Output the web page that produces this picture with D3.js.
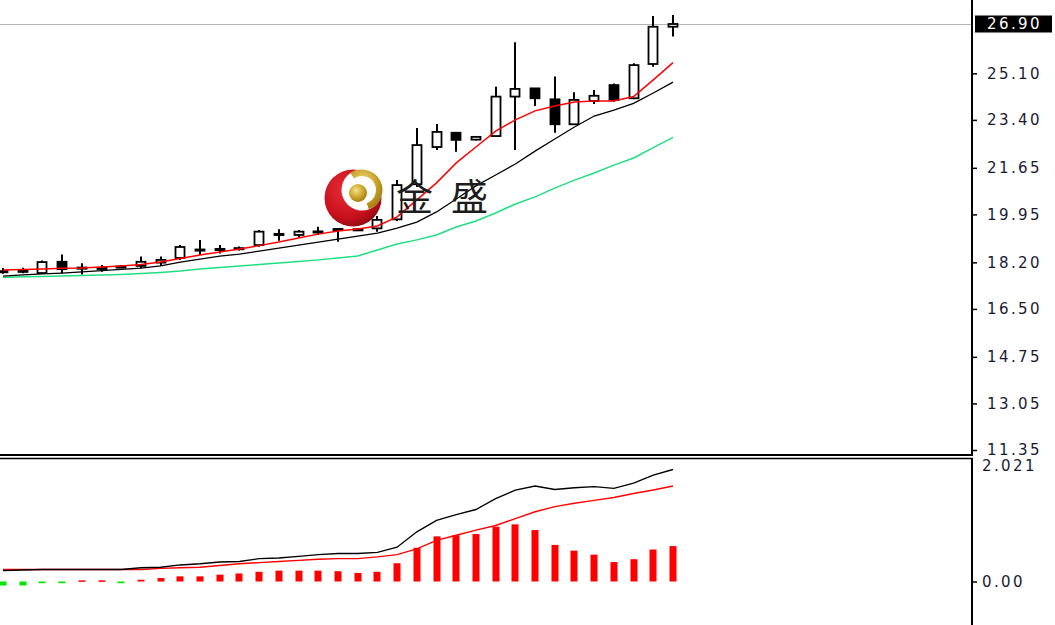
<!DOCTYPE html>
<html>
<head>
<meta charset="utf-8">
<script src="https://cdn.jsdelivr.net/npm/d3@7"></script>
<style>
html,body{margin:0;padding:0;background:#fff;}
svg{display:block;}
</style>
</head>
<body>
<svg id="chart" width="1055" height="625"></svg>
<script>
// ---- data ----
const openPrices  = [17.85,17.85,17.81,18.22,18.01,17.98,18.04,18.07,18.19,18.36,18.63,18.67,18.71,18.83,19.22,19.20,19.31,19.40,19.40,19.44,19.77,21.05,22.41,22.93,22.68,22.81,24.25,24.55,24.15,23.24,24.09,24.67,24.19,25.44,26.80];
const highPrices  = [17.99,18.00,18.27,18.49,18.17,18.10,18.10,18.41,18.41,18.83,19.02,18.83,18.78,19.38,19.41,19.38,19.50,19.44,19.44,19.89,21.21,23.10,23.25,22.94,22.81,24.61,26.23,24.56,24.98,24.41,24.49,24.73,25.47,27.19,27.23];
const lowPrices   = [17.78,17.80,17.79,17.80,17.76,17.86,17.99,17.98,18.07,18.29,18.47,18.52,18.63,18.77,18.99,19.11,19.20,18.95,19.38,19.32,19.71,20.95,22.30,22.24,22.65,22.79,22.30,23.91,22.93,23.23,23.98,24.06,24.15,25.34,26.44];
const closePrices = [17.88,17.90,18.21,17.95,17.99,18.00,18.05,18.22,18.29,18.76,18.67,18.69,18.72,19.32,19.24,19.32,19.33,19.42,19.41,19.75,21.02,22.48,22.96,22.67,22.78,24.25,24.53,24.19,23.24,24.13,24.28,24.13,25.40,26.80,26.90];

const maRed   = [17.92,17.94,17.96,17.98,17.99,18.03,18.07,18.12,18.21,18.34,18.47,18.58,18.69,18.81,18.94,19.09,19.23,19.34,19.42,19.53,19.86,20.48,21.10,21.83,22.41,22.99,23.40,23.73,23.91,24.05,24.09,24.09,24.25,24.86,25.49];
const maBlack = [17.70,17.74,17.78,17.81,17.85,17.90,17.94,17.99,18.07,18.21,18.32,18.43,18.50,18.61,18.72,18.83,18.94,19.05,19.16,19.27,19.45,19.67,20.04,20.51,20.99,21.39,21.79,22.26,22.70,23.14,23.54,23.76,24.00,24.38,24.78];
const maGreen = [17.65,17.67,17.68,17.70,17.72,17.74,17.76,17.79,17.83,17.88,17.96,18.01,18.07,18.12,18.18,18.23,18.29,18.36,18.43,18.65,18.87,19.02,19.20,19.49,19.71,20.00,20.33,20.59,20.91,21.20,21.46,21.75,22.01,22.39,22.76];

const macdLine   = [0.19,0.20,0.21,0.21,0.21,0.21,0.21,0.24,0.25,0.29,0.31,0.34,0.35,0.40,0.41,0.44,0.47,0.49,0.49,0.51,0.60,0.87,1.07,1.17,1.26,1.45,1.60,1.67,1.61,1.64,1.66,1.63,1.72,1.86,1.96];
const signalLine = [0.21,0.21,0.21,0.21,0.21,0.21,0.21,0.21,0.23,0.24,0.25,0.28,0.31,0.33,0.35,0.37,0.39,0.40,0.40,0.43,0.47,0.57,0.72,0.81,0.90,0.98,1.10,1.22,1.31,1.37,1.42,1.47,1.54,1.60,1.67];
const macdHist   = [-0.07,-0.07,-0.03,-0.03,0.02,0.02,-0.03,0.03,0.06,0.09,0.09,0.12,0.14,0.17,0.19,0.19,0.19,0.18,0.15,0.17,0.32,0.59,0.79,0.81,0.83,0.96,1.00,0.90,0.64,0.54,0.47,0.34,0.39,0.56,0.62];

const priceTicks = [25.10, 23.40, 21.65, 19.95, 18.20, 16.50, 14.75, 13.05, 11.35];
const macdTicks  = [2.021, 0.00];
const macdTickLabels = ["2.021", "0.00"];
const logoText = ["金", "盛"];

// ---- layout ----
const svg = d3.select("#chart");
const axisX = 972;
const n = closePrices.length;
const x = d3.scaleLinear().domain([0, n - 1]).range([3, 673]);
const y = d3.scaleLinear().domain([11.35, 26.90]).range([450, 24]);
const ym = d3.scaleLinear().domain([0, 2.021]).range([581.5, 466]);

const labelColor = "#1a1a33";
const fontFam = "'DejaVu Sans', Verdana, sans-serif";
const lsp = 2.4;

// current price line
const lastClose = closePrices[n - 1];
svg.append("line")
  .attr("x1", 0).attr("x2", axisX).attr("y1", Math.round(y(lastClose)) + 0.5).attr("y2", Math.round(y(lastClose)) + 0.5)
  .attr("stroke", "#b4b4b4").attr("stroke-width", 1);

// candles
const candles = svg.append("g").attr("class", "candles");
const bodyW = 9;
d3.range(n).forEach(i => {
  const cx = Math.round(x(i));
  const o = openPrices[i], c = closePrices[i];
  candles.append("line")
    .attr("x1", cx).attr("x2", cx)
    .attr("y1", y(highPrices[i])).attr("y2", y(lowPrices[i]))
    .attr("stroke", "#000").attr("stroke-width", 2);
  const top = y(Math.max(o, c)), bot = y(Math.min(o, c));
  const h = Math.max(bot - top, 1.2);
  candles.append("rect")
    .attr("x", cx - bodyW / 2).attr("y", top)
    .attr("width", bodyW).attr("height", h)
    .attr("fill", c >= o ? "#fff" : "#000")
    .attr("stroke", "#000").attr("stroke-width", 1.8);
});

// moving averages
const maLine = d3.line().x((d, i) => x(i)).y(d => y(d));
svg.append("path").datum(maGreen).attr("d", maLine).attr("fill", "none").attr("stroke", "#1fe07f").attr("stroke-width", 1.5);
svg.append("path").datum(maBlack).attr("d", maLine).attr("fill", "none").attr("stroke", "#000").attr("stroke-width", 1.3);
svg.append("path").datum(maRed).attr("d", maLine).attr("fill", "none").attr("stroke", "#ff0000").attr("stroke-width", 1.5);

// ---- logo watermark ----
const logo = svg.append("g").attr("class", "logo");
const defs = svg.append("defs");
const rg = defs.append("radialGradient").attr("id", "redBall").attr("cx", "40%").attr("cy", "35%").attr("r", "70%");
rg.append("stop").attr("offset", "0%").attr("stop-color", "#e8303a");
rg.append("stop").attr("offset", "70%").attr("stop-color", "#c8101c");
rg.append("stop").attr("offset", "100%").attr("stop-color", "#8e0a10");
const gg = defs.append("radialGradient").attr("id", "goldBall").attr("cx", "40%").attr("cy", "35%").attr("r", "70%");
gg.append("stop").attr("offset", "0%").attr("stop-color", "#f4e08a");
gg.append("stop").attr("offset", "60%").attr("stop-color", "#c9a227");
gg.append("stop").attr("offset", "100%").attr("stop-color", "#9a7a10");
logo.append("circle").attr("cx", 353).attr("cy", 198).attr("r", 28.5).attr("fill", "url(#redBall)");
logo.append("circle").attr("cx", 362).attr("cy", 190).attr("r", 20.5).attr("fill", "#fff");
logo.append("path")
  .attr("transform", "translate(362,190)")
  .attr("d", d3.arc().innerRadius(14).outerRadius(20.5).startAngle(-0.6).endAngle(2.8)())
  .attr("fill", "url(#goldBall)");
logo.append("circle").attr("cx", 358).attr("cy", 193).attr("r", 9).attr("fill", "url(#goldBall)");
logo.append("text").attr("x", 396).attr("y", 211).text(logoText[0])
  .attr("font-family", "'Noto Sans CJK SC', sans-serif").attr("font-size", 37).attr("fill", "#1c1c1c");
logo.append("text").attr("x", 451).attr("y", 211).text(logoText[1])
  .attr("font-family", "'Noto Sans CJK SC', sans-serif").attr("font-size", 37).attr("fill", "#1c1c1c");

// ---- MACD panel ----
svg.append("g").selectAll("rect").data(macdHist).join("rect")
  .attr("x", (d, i) => Math.round(x(i)) - 3.5)
  .attr("y", d => d >= 0 ? ym(d) : ym(0))
  .attr("width", 7)
  .attr("height", d => Math.max(Math.abs(ym(d) - ym(0)), 1.5))
  .attr("fill", d => d >= 0 ? "#ff0000" : "#00e600");
const mLine = d3.line().x((d, i) => x(i)).y(d => ym(d));
svg.append("path").datum(signalLine).attr("d", mLine).attr("fill", "none").attr("stroke", "#ff0000").attr("stroke-width", 1.4);
svg.append("path").datum(macdLine).attr("d", mLine).attr("fill", "none").attr("stroke", "#000").attr("stroke-width", 1.4);

// ---- frame lines ----
svg.append("line").attr("x1", 0).attr("x2", axisX + 1).attr("y1", 455).attr("y2", 455).attr("stroke", "#000").attr("stroke-width", 2);
svg.append("line").attr("x1", 0).attr("x2", axisX + 1).attr("y1", 458.5).attr("y2", 458.5).attr("stroke", "#000").attr("stroke-width", 1.5);
svg.append("line").attr("x1", axisX).attr("x2", axisX).attr("y1", 0).attr("y2", 455).attr("stroke", "#000").attr("stroke-width", 2);
svg.append("line").attr("x1", axisX).attr("x2", axisX).attr("y1", 458).attr("y2", 625).attr("stroke", "#000").attr("stroke-width", 2);

// ---- price axis ----
const pAxis = d3.axisRight(y).tickValues(priceTicks).tickFormat(d3.format(".2f")).tickSize(5).tickSizeOuter(0).tickPadding(10);
const pg = svg.append("g").attr("transform", `translate(${axisX},0)`).call(pAxis);
pg.select(".domain").remove();
pg.selectAll(".tick line").attr("stroke", "#000").attr("stroke-width", 1.5);
pg.selectAll(".tick text").attr("font-family", fontFam).attr("font-size", 15).attr("letter-spacing", lsp).attr("fill", labelColor);

// current price box
const cy = y(lastClose);
svg.append("rect").attr("x", 975).attr("y", cy - 8.5).attr("width", 77).attr("height", 17).attr("fill", "#000");
svg.append("text").attr("x", 987).attr("y", cy).attr("dy", "0.36em").text(d3.format(".2f")(lastClose))
  .attr("font-family", fontFam).attr("font-size", 15).attr("letter-spacing", lsp).attr("fill", "#fff");

// ---- MACD axis ----
const mAxis = d3.axisRight(ym).tickValues(macdTicks).tickFormat((d, i) => macdTickLabels[i]).tickSize(5).tickSizeOuter(0).tickPadding(5);
const mg = svg.append("g").attr("transform", `translate(${axisX},0)`).call(mAxis);
mg.select(".domain").remove();
mg.selectAll(".tick line").attr("stroke", "#000").attr("stroke-width", 1.5);
mg.selectAll(".tick text").attr("font-family", fontFam).attr("font-size", 15).attr("letter-spacing", lsp).attr("fill", labelColor);
mg.selectAll(".tick").filter(d => d === 2.021).select("line").remove();
</script>
</body>
</html>
